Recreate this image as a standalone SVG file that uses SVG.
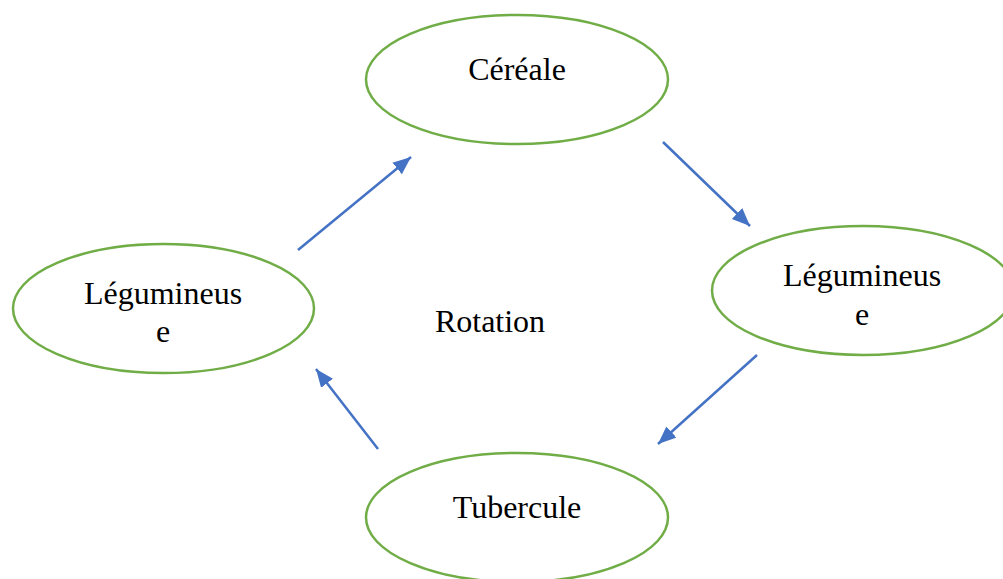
<svg xmlns="http://www.w3.org/2000/svg" width="1003" height="579" viewBox="0 0 1003 579">
<style>
.node{fill:#ffffff;stroke:#70AD47;stroke-width:2.5}
.lbl{font-family:"Liberation Serif","Times New Roman",serif;font-size:32px;fill:#000;text-anchor:middle}
.conn{stroke:#4472C4;stroke-width:2.5;fill:none;marker-end:url(#ah)}
</style>
<defs>
<marker id="ah" markerUnits="userSpaceOnUse" markerWidth="20" markerHeight="16" refX="18" refY="7.5" orient="auto">
<path d="M0,0 L18,7.5 L0,15 z" fill="#4472C4"/>
</marker>
</defs>
<rect width="1003" height="579" fill="#ffffff"/>
<g id="cereale">
<ellipse class="node" cx="517" cy="79.5" rx="151" ry="64.5"/>
<text class="lbl" x="517" y="80">Céréale</text>
</g>
<g id="legumineuse-droite">
<ellipse class="node" cx="863" cy="290.5" rx="151" ry="64.5"/>
<text class="lbl" x="862" y="286">Légumineus</text>
<text class="lbl" x="862" y="325">e</text>
</g>
<g id="legumineuse-gauche">
<ellipse class="node" cx="163.5" cy="308.5" rx="150.5" ry="64.5"/>
<text class="lbl" x="163" y="304">Légumineus</text>
<text class="lbl" x="163" y="342">e</text>
</g>
<g id="tubercule">
<ellipse class="node" cx="517" cy="517.5" rx="151" ry="64.5"/>
<text class="lbl" x="517" y="518">Tubercule</text>
</g>
<g id="rotation">
<text class="lbl" x="490" y="332">Rotation</text>
</g>
<g id="connectors">
<line class="conn" x1="298" y1="250" x2="411" y2="157"/>
<line class="conn" x1="663" y1="142" x2="750" y2="226"/>
<line class="conn" x1="757" y1="355" x2="658" y2="444"/>
<line class="conn" x1="378" y1="449" x2="316" y2="369"/>
</g>
</svg>
